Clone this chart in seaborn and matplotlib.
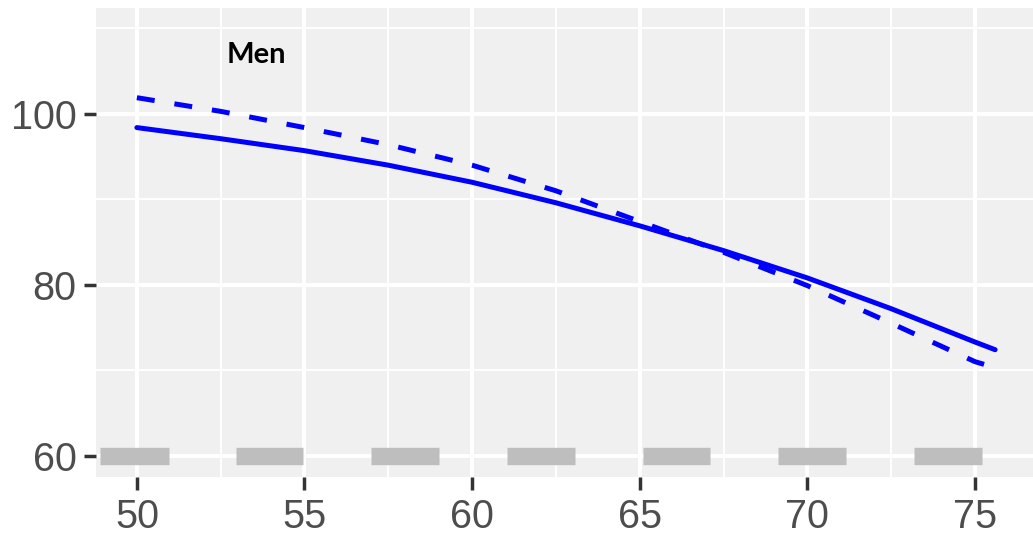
import pandas as pd
import seaborn as sns
import numpy as np
import matplotlib.pyplot as plt

# values
age = [50, 52.5, 55, 57.5, 60, 62.5, 65, 67.5, 70, 72.5, 75, 75.6]
solid_vals = [98.4, 97.1, 95.7, 94.0, 92.0, 89.6, 86.9, 84.0, 80.8, 77.2, 73.3, 72.4]
dashed_vals = [101.9, 100.3, 98.4, 96.4, 94.0, 91.0, 87.4, 83.8, 79.9, 75.5, 71.0, 70.3]

# grey band segments at y = 60
band_start = [48.91, 52.95, 56.99, 61.04, 65.09, 69.13, 73.19]
band_end = [50.95, 54.97, 59.02, 63.07, 67.10, 71.15, 75.20]
band_y = 60

x_ticks = [50, 55, 60, 65, 70, 75]
y_ticks = [60, 80, 100]

df = pd.concat([
    pd.DataFrame({'age': age, 'value': solid_vals, 'series': 'solid'}),
    pd.DataFrame({'age': age, 'value': dashed_vals, 'series': 'dashed'}),
])

sns.set_theme(style='darkgrid', rc={
    'axes.facecolor': '#f0f0f0',
    'grid.color': 'white',
})
plt.rcParams['font.family'] = ['Liberation Sans', 'DejaVu Sans']

fig = plt.figure(figsize=(10.33, 5.51), dpi=100)
ax = fig.add_axes([0.0929, 0.1343, 0.9071, 0.8512])

ax.hlines([band_y] * len(band_start), band_start, band_end,
          color='#bebebe', linewidth=12.5, capstyle='butt', zorder=2)

sns.lineplot(data=df, x='age', y='value', style='series',
             dashes={'solid': '', 'dashed': (3.6, 4)},
             color='#0000ff', linewidth=3.6, legend=False, ax=ax, zorder=3)

ax.set_xlim(48.78, 76.73)
ax.set_ylim(57.5, 112.4)
ax.set_xticks(x_ticks)
ax.set_yticks(y_ticks)
ax.set_xticks([52.5, 57.5, 62.5, 67.5, 72.5], minor=True)
ax.set_yticks([70, 90, 110], minor=True)
ax.grid(which='major', color='white', linewidth=2.8)
ax.grid(which='minor', color='white', linewidth=1.4)
ax.set_axisbelow(True)

ax.tick_params(axis='both', which='major', length=9, width=2.5, color='#333333',
               labelsize=28.5, labelcolor='#4d4d4d', bottom=True, left=True, pad=5)
ax.tick_params(axis='x', which='major', pad=6)
ax.tick_params(which='minor', length=0)
for s in ax.spines.values():
    s.set_visible(False)
ax.set_xlabel('')
ax.set_ylabel('')

ax.text(53.57, 106.9, 'Men', fontsize=21, fontweight='bold', ha='center', va='center',
        family=['Lato', 'DejaVu Sans'], color='black')

fig.savefig('out.png', dpi=100)
